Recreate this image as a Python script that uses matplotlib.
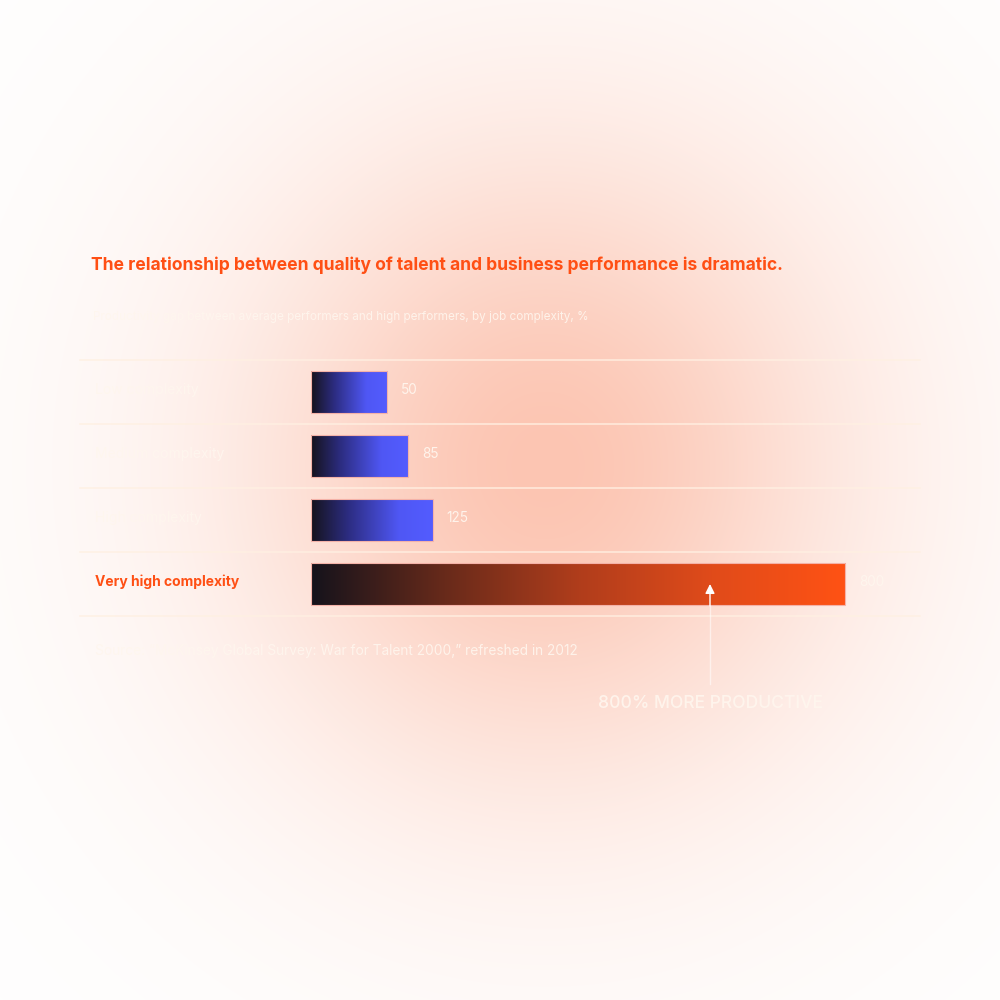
import numpy as np
import matplotlib
matplotlib.use("Agg")
import matplotlib.pyplot as plt
from matplotlib.colors import LinearSegmentedColormap
from matplotlib.transforms import blended_transform_factory

# ---------------- data ----------------
categories = ["Low complexity", "Medium complexity", "High complexity", "Very high complexity"]
values = [50, 85, 125, 800]
value_labels = ["50", "85", "125", "800"]
title = "The relationship between quality of talent and business performance is dramatic."
subtitle = "Productivity gap between average performers and high performers, by job complexity, %"
source = "Source: \u201cMcKinsey Global Survey: War for Talent 2000,\u201d refreshed in 2012"
callout = "800% MORE PRODUCTIVE"
highlight_index = 3

# ---------------- style ----------------
FONT = ["Inter", "DejaVu Sans"]
plt.rcParams["font.family"] = FONT
ORANGE = "#ff4f14"
PALE = "#fff6ee"
BAR_MIN = 74.5  # minimum visual bar length (data units)

W = H = 1000
fig = plt.figure(figsize=(10, 10), dpi=100)

# background glow
bg = fig.add_axes([0, 0, 1, 1], zorder=0)
yy, xx = np.mgrid[0:H, 0:W]
cx, cy = 545, 465
r1 = ((xx - cx) / 195.0) ** 2 + ((yy - cy) / 210.0) ** 2
r2 = ((xx - cx) / 330.0) ** 2 + ((yy - cy) / 340.0) ** 2
f = 0.78 * np.exp(-r1 / 2) + 0.22 * np.exp(-r2 / 2)
peak = np.array([252, 197, 178]) / 255.0
img = 1 - f[..., None] * (1 - peak)
bg.imshow(img, extent=[0, W, H, 0], aspect="auto", interpolation="bilinear")
bg.set_xlim(0, W)
bg.set_ylim(H, 0)
bg.axis("off")

# bar axes
ax = fig.add_axes([0.311, 0.384, 0.609, 0.256], zorder=1)
ax.patch.set_alpha(0)
XMAX = 609 / 0.6108
ax.axis("off")

blue_cmap = LinearSegmentedColormap.from_list(
    "b", [(0, "#15131c"), (0.3, "#2c2c80"), (0.72, "#4f57f4"), (1, "#535cff")])
orange_cmap = LinearSegmentedColormap.from_list(
    "o", [(0, "#15131c"), (0.25, "#682a1a"), (0.5, "#b03d1c"), (0.75, "#e04b1a"), (1, "#ff5214")])

widths = np.array(values, dtype=float) + BAR_MIN
bars = ax.barh(range(len(categories)), widths, height=0.656, color="none",
               edgecolor="#f4b2a8", linewidth=0.8, zorder=3)
grad = np.linspace(0, 1, 256).reshape(1, -1)
for i, b in enumerate(bars):
    x0, y0 = b.get_x(), b.get_y()
    w, h = b.get_width(), b.get_height()
    cmap = orange_cmap if i == highlight_index else blue_cmap
    im = ax.imshow(grad, extent=[x0, x0 + w, y0 + h, y0], cmap=cmap,
                   aspect="auto", interpolation="bilinear", zorder=2)
    im.set_clip_path(b)
ax.set_xlim(0, XMAX)
ax.set_ylim(len(categories) - 0.5, -0.5)

# separators, labels
tr = blended_transform_factory(fig.transFigure, ax.transData)
for yv in np.arange(-0.5, len(categories), 1.0):
    ax.plot([0.08, 0.92], [yv, yv], transform=tr, color="#fff0e2", lw=1.1,
            alpha=0.9, clip_on=False, zorder=1)

for i, (cat, w, lbl) in enumerate(zip(categories, widths, value_labels)):
    if i == highlight_index:
        ax.text(0.095, i - 0.03, cat, transform=tr, ha="left", va="center",
                fontsize=10.0, fontweight="bold", color=ORANGE)
    else:
        ax.text(0.095, i - 0.03, cat, transform=tr, ha="left", va="center",
                fontsize=10.0, color=PALE, alpha=0.9)
    ax.annotate(lbl, xy=(w, i - 0.03), xytext=(10, 0), textcoords="offset points",
                ha="left", va="center", fontsize=9.8, color=PALE, alpha=0.95)

# overlay texts and callout
ov = fig.add_axes([0, 0, 1, 1], zorder=2)
ov.patch.set_alpha(0)
ov.set_xlim(0, W)
ov.set_ylim(H, 0)
ov.axis("off")

ov.text(91, 265, title, ha="left", va="center", fontsize=12.55,
        fontweight="bold", color=ORANGE)
ov.text(93, 317, subtitle, ha="left", va="center", fontsize=8.45,
        color=PALE, alpha=0.9)
ov.text(95, 651, source, ha="left", va="center", fontsize=9.85,
        color=PALE, alpha=0.9)

ov.plot([710, 710], [606, 684], color="white", lw=1, alpha=0.55)
ov.annotate("", xy=(710, 584), xytext=(710, 606),
            arrowprops=dict(arrowstyle="-|>", color="white", lw=1,
                            mutation_scale=14, shrinkA=0, shrinkB=0))
ov.text(710, 703, callout, ha="center", va="center", fontsize=12.6,
        fontweight="medium", color=PALE, alpha=0.9)

fig.savefig("out.png", dpi=100)
